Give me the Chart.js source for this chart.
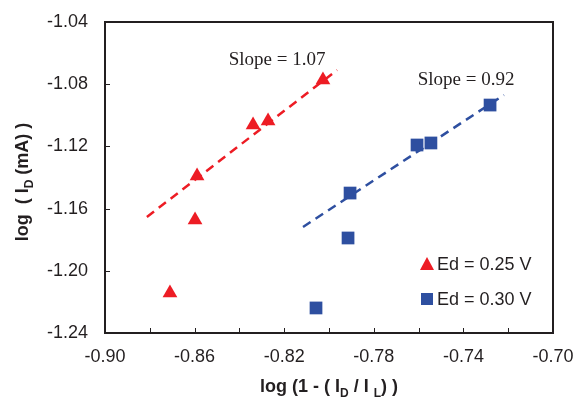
<!DOCTYPE html>
<html>
<head>
<meta charset="utf-8">
<script src="https://cdn.jsdelivr.net/npm/chart.js@4/dist/chart.umd.min.js"></script>
<style>
  html, body { margin: 0; padding: 0; background: #fff; }
</style>
</head>
<body>
<canvas id="c" width="575" height="399"></canvas>
<script>
// --- DATA ---
const seriesNames = ['Ed = 0.25 V', 'Ed = 0.30 V'];
const redX = [-0.8710, -0.8598, -0.8589, -0.8339, -0.8272, -0.8027];
const redY = [-1.2143, -1.1673, -1.1390, -1.1062, -1.1037, -1.0773];
const blueX = [-0.8058, -0.7915, -0.7906, -0.7607, -0.7545, -0.7281];
const blueY = [-1.2239, -1.1789, -1.1500, -1.1191, -1.1178, -1.0934];
// fitted trend lines (end points)
const redFitX = [-0.8813, -0.7964];
const redFitY = [-1.1654, -1.0709];
const blueFitX = [-0.8116, -0.7219];
const blueFitY = [-1.1718, -1.0869];
const slopeLabels = ['Slope = 1.07', 'Slope = 0.92'];
const xTicks = [-0.90, -0.86, -0.82, -0.78, -0.74, -0.70];
const yTicks = [-1.24, -1.20, -1.16, -1.12, -1.08, -1.04];

const RED = '#ed1c24', BLUE = '#2e4fa0', INK = '#231f20';
const pts = (xs, ys) => xs.map((x, i) => ({ x, y: ys[i] }));

// --- TEXT WITH SUBSCRIPTS ---
function drawRich(ctx, parts, x, y, size) {
    const big = `bold ${size}px "Liberation Sans", Arial, sans-serif`;
    const small = `bold ${Math.round(size * 0.68)}px "Liberation Sans", Arial, sans-serif`;
    let w = 0;
    parts.forEach(p => { ctx.font = p.sub ? small : big; w += ctx.measureText(p.t).width; });
    let cx = x - w / 2;
    parts.forEach(p => {
        ctx.font = p.sub ? small : big;
        ctx.fillText(p.t, cx, p.sub ? y + size * 0.28 : y);
        cx += ctx.measureText(p.t).width;
    });
}

const decor = {
    id: 'decor',
    afterDraw(chart) {
        const ctx = chart.ctx, a = chart.chartArea, x = chart.scales.x, y = chart.scales.y;
        ctx.save();
        ctx.strokeStyle = INK; ctx.lineWidth = 2;
        ctx.strokeRect(a.left, a.top, a.right - a.left, a.bottom - a.top);
        // inward tick marks
        ctx.lineWidth = 1;
        x.ticks.forEach(t => {
            const px = Math.round(x.getPixelForValue(t.value)) + 0.5;
            ctx.beginPath(); ctx.moveTo(px, a.bottom); ctx.lineTo(px, a.bottom - 5); ctx.stroke();
        });
        y.ticks.forEach(t => {
            const py = Math.round(y.getPixelForValue(t.value)) + 0.5;
            ctx.beginPath(); ctx.moveTo(a.left, py); ctx.lineTo(a.left + 5, py); ctx.stroke();
        });

        // slope notes
        ctx.fillStyle = INK;
        ctx.font = '19px "Liberation Serif", "Times New Roman", serif';
        ctx.textAlign = 'center'; ctx.textBaseline = 'middle';
        ctx.fillText(slopeLabels[0], x.getPixelForValue(-0.8232), y.getPixelForValue(-1.0644));
        ctx.fillText(slopeLabels[1], x.getPixelForValue(-0.7388), y.getPixelForValue(-1.0773));

        // legend
        const lx = a.right - 126;
        const rows = [{ c: RED, s: 'tri', yy: 264 }, { c: BLUE, s: 'sq', yy: 299 }];
        rows.forEach((r, i) => {
            ctx.fillStyle = r.c;
            if (r.s === 'tri') {
                ctx.beginPath(); ctx.moveTo(lx, r.yy - 7); ctx.lineTo(lx + 7, r.yy + 6); ctx.lineTo(lx - 7, r.yy + 6); ctx.closePath(); ctx.fill();
            } else {
                ctx.fillRect(lx - 6, r.yy - 6, 12, 12);
            }
            ctx.fillStyle = INK;
            ctx.font = '18px "Liberation Sans", Arial, sans-serif';
            ctx.textAlign = 'left';
            ctx.fillText(seriesNames[i], lx + 10, r.yy + 1);
        });

        // axis titles
        ctx.fillStyle = INK; ctx.textAlign = 'left'; ctx.textBaseline = 'alphabetic';
        drawRich(ctx, [{ t: 'log (1 - ( I' }, { t: 'D', sub: true }, { t: ' / I ' }, { t: 'L', sub: true }, { t: ') )' }],
            (a.left + a.right) / 2, 392, 18);
        ctx.translate(28, 182); ctx.rotate(-Math.PI / 2);
        drawRich(ctx, [{ t: 'log  ( I' }, { t: 'D', sub: true }, { t: ' (mA) )' }], 0, 0, 18);
        ctx.restore();
    }
};

new Chart(document.getElementById('c'), {
    type: 'scatter',
    data: {
        datasets: [
            { label: seriesNames[0], data: pts(redX, redY), pointStyle: 'triangle', pointRadius: 8.5,
              backgroundColor: RED, borderColor: RED, borderWidth: 0 },
            { label: seriesNames[1], data: pts(blueX, blueY), pointStyle: 'rect', pointRadius: 9,
              backgroundColor: BLUE, borderColor: BLUE, borderWidth: 0 },
            { data: pts(redFitX, redFitY), showLine: true, pointRadius: 0, borderColor: RED,
              borderWidth: 2.5, borderDash: [9, 6] },
            { data: pts(blueFitX, blueFitY), showLine: true, pointRadius: 0, borderColor: BLUE,
              borderWidth: 2.5, borderDash: [9, 6] }
        ]
    },
    options: {
        responsive: false, animation: false,
        layout: { padding: { left: 0, right: 22, top: 22, bottom: 0 } },
        plugins: { legend: { display: false }, tooltip: { enabled: false } },
        scales: {
            x: {
                type: 'linear', min: -0.90, max: -0.70,
                grid: { display: false, drawTicks: false }, border: { display: false },
                afterFit: s => { s.height = 66; s.paddingLeft = 0; s.paddingRight = 0; },
                afterBuildTicks: s => { s.ticks = []; for (let i = 0; i <= 10; i++) s.ticks.push({ value: -0.90 + i * 0.02 }); },
                ticks: {
                    autoSkip: false, maxRotation: 0, padding: 13, color: INK,
                    font: { family: '"Liberation Sans", Arial, sans-serif', size: 18 },
                    callback: (v, i) => i % 2 === 0 ? xTicks[i / 2].toFixed(2) : ''
                }
            },
            y: {
                type: 'linear', min: -1.24, max: -1.04,
                grid: { display: false, drawTicks: false }, border: { display: false },
                afterFit: s => { s.width = 105; s.paddingTop = 0; s.paddingBottom = 0; },
                afterBuildTicks: s => { s.ticks = yTicks.map(v => ({ value: v })); },
                ticks: {
                    padding: 17, color: INK,
                    font: { family: '"Liberation Sans", Arial, sans-serif', size: 18 },
                    callback: v => v.toFixed(2)
                }
            }
        }
    },
    plugins: [decor]
});
</script>
</body>
</html>
